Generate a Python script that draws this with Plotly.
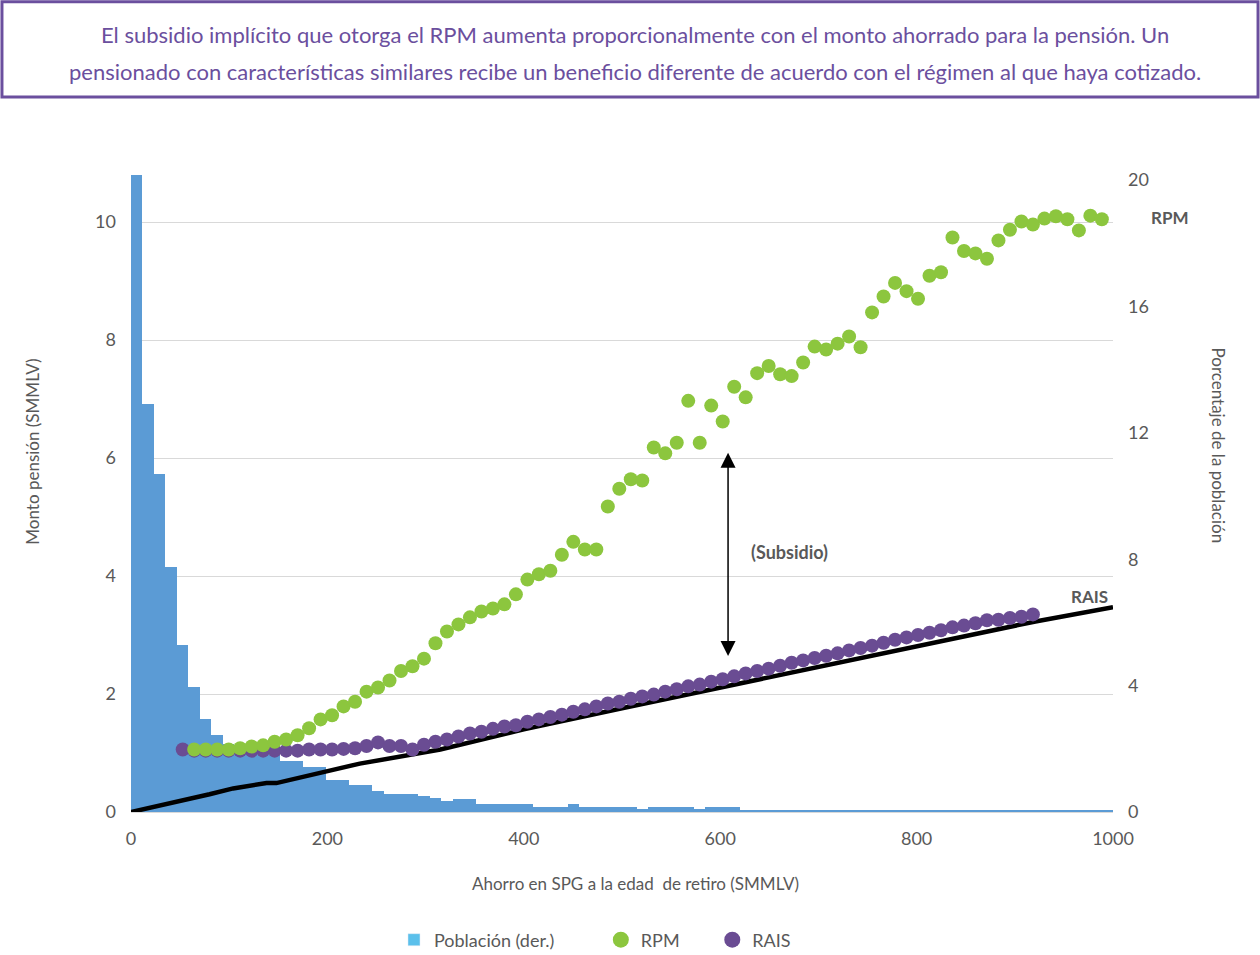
import plotly.graph_objects as go

# ---------------- data ----------------
BIN_WIDTH = 11.7  # width of each savings bin (SMMLV)

# Population share per savings bin (% , right axis)
POP_PCT = [20.15, 12.90, 10.71, 7.76, 5.30, 3.95, 2.95, 2.44, 2.15, 1.98,
           1.90, 1.85, 1.80, 1.60, 1.60, 1.44, 1.44, 1.00, 1.00, 0.84,
           0.84, 0.66, 0.58, 0.58, 0.58, 0.50, 0.43, 0.34, 0.42, 0.42,
           0.24, 0.24, 0.24, 0.24, 0.24, 0.16, 0.16, 0.16, 0.24, 0.16,
           0.16, 0.16, 0.16, 0.16, 0.09, 0.16, 0.16, 0.16, 0.16, 0.09,
           0.16, 0.16, 0.16, 0.06, 0.06, 0.06, 0.06, 0.06, 0.06, 0.06,
           0.06, 0.06, 0.06, 0.06, 0.06, 0.06, 0.06, 0.06, 0.06, 0.06,
           0.06, 0.06, 0.06, 0.06, 0.06, 0.06, 0.06, 0.06, 0.06, 0.06,
           0.06, 0.06, 0.06, 0.06, 0.06, 0.06]

RPM_FIRST_BIN = 5
RPM = [1.06, 1.06, 1.06, 1.06, 1.08, 1.11, 1.13, 1.19, 1.23, 1.30,
       1.42, 1.57, 1.64, 1.79, 1.87, 2.04, 2.11, 2.23, 2.39, 2.47,
       2.60, 2.86, 3.06, 3.18, 3.30, 3.40, 3.45, 3.52, 3.69, 3.94,
       4.03, 4.09, 4.36, 4.58, 4.45, 4.45, 5.18, 5.48, 5.64, 5.62,
       6.18, 6.08, 6.26, 6.97, 6.26, 6.89, 6.62, 7.21, 7.03, 7.44,
       7.56, 7.42, 7.39, 7.62, 7.89, 7.84, 7.94, 8.06, 7.88, 8.47,
       8.74, 8.97, 8.83, 8.70, 9.09, 9.15, 9.74, 9.51, 9.47, 9.38,
       9.69, 9.87, 10.01, 9.96, 10.06, 10.10, 10.05, 9.86, 10.11, 10.05]

RAIS_FIRST_BIN = 4
RAIS = [1.06, 1.04, 1.04, 1.04, 1.04, 1.04, 1.04, 1.04, 1.04, 1.04,
        1.04, 1.06, 1.06, 1.06, 1.07, 1.08, 1.12, 1.18, 1.12, 1.12,
        1.06, 1.14, 1.19, 1.23, 1.28, 1.33, 1.36, 1.41, 1.45, 1.47,
        1.53, 1.57, 1.61, 1.65, 1.70, 1.74, 1.79, 1.84, 1.87, 1.92,
        1.96, 1.99, 2.04, 2.08, 2.13, 2.16, 2.21, 2.25, 2.30, 2.35,
        2.39, 2.43, 2.48, 2.53, 2.57, 2.61, 2.65, 2.69, 2.74, 2.78,
        2.82, 2.87, 2.92, 2.96, 3.00, 3.04, 3.08, 3.13, 3.16, 3.20,
        3.25, 3.26, 3.29, 3.31, 3.35]

# RAIS reference curve (black line)
LINE_X = [0, 37, 80, 104, 138, 148, 172, 200, 233, 315, 400, 500, 600, 700, 800, 921, 1000]
LINE_Y = [0, 0.13, 0.30, 0.40, 0.49, 0.49, 0.58, 0.69, 0.82, 1.06, 1.40, 1.76, 2.11, 2.45, 2.80, 3.23, 3.47]

X_TICKS = [0, 200, 400, 600, 800, 1000]
LEFT_TICKS = [0, 2, 4, 6, 8, 10]
RIGHT_TICKS = [0, 4, 8, 12, 16, 20]

SUBSIDY_X = 608
SUBSIDY_LOW, SUBSIDY_HIGH = 2.62, 6.09

TITLE_1 = "El subsidio implícito que otorga el RPM aumenta proporcionalmente con el monto ahorrado para la pensión. Un"
TITLE_2 = "pensionado con características similares recibe un beneficio diferente de acuerdo con el régimen al que haya cotizado."

# ---------------- styling ----------------
FONT = "Lato"
GRAY = "#595959"
PURPLE_T = "#6b4f9e"
BAR_BLUE = "#5b9bd5"
LEG_BLUE = "#5bc0eb"
GREEN = "#8cc63e"
VIOLET = "#6a4c93"
NB = "\u00a0"

centers = [(i + 0.5) * BIN_WIDTH for i in range(len(POP_PCT))]
rpm_x = centers[RPM_FIRST_BIN:RPM_FIRST_BIN + len(RPM)]
rais_x = centers[RAIS_FIRST_BIN:RAIS_FIRST_BIN + len(RAIS)]

fig = go.Figure()

fig.add_trace(go.Bar(x=centers, y=POP_PCT, width=BIN_WIDTH, marker=dict(color=BAR_BLUE, line=dict(width=0)),
                     yaxis="y", showlegend=False, name="Población (der.)"))
fig.add_trace(go.Scatter(x=LINE_X, y=LINE_Y, mode="lines", line=dict(color="black", width=4.5),
                         yaxis="y2", showlegend=False, name="RAIS curva"))
fig.add_trace(go.Scatter(x=rais_x, y=RAIS, mode="markers", marker=dict(color=VIOLET, size=14),
                         yaxis="y2", showlegend=False, name="RAIS"))
fig.add_trace(go.Scatter(x=rpm_x, y=RPM, mode="markers", marker=dict(color=GREEN, size=14),
                         yaxis="y2", showlegend=False, name="RPM"))

# legend entries
fig.add_trace(go.Bar(x=[None], y=[None], marker=dict(color=LEG_BLUE), name="Población (der.)" + NB * 9, yaxis="y"))
fig.add_trace(go.Scatter(x=[None], y=[None], mode="markers", marker=dict(color=GREEN, size=16),
                         name="RPM" + NB * 6, yaxis="y2"))
fig.add_trace(go.Scatter(x=[None], y=[None], mode="markers", marker=dict(color=VIOLET, size=16),
                         name="RAIS", yaxis="y2"))

L_TOP = 10.85
R_TOP = L_TOP * 59 / 31.6

fig.update_layout(
    width=1260, height=955,
    margin=dict(l=131, r=147, t=172, b=143, autoexpand=False),
    paper_bgcolor="white", plot_bgcolor="white",
    font=dict(family=FONT, color=GRAY, size=17),
    bargap=0,
    xaxis=dict(range=[0, 1000], tickvals=X_TICKS, showgrid=False, zeroline=False, automargin=False,
               showline=True, linecolor="#d9d9d9", linewidth=1, ticks="",
               tickfont=dict(size=18, color=GRAY), ticklabelstandoff=10),
    yaxis=dict(range=[0, R_TOP], tickvals=RIGHT_TICKS, side="right", showgrid=False, zeroline=False,
               automargin=False, showline=False, ticks="", tickfont=dict(size=18, color=GRAY),
               ticklabelstandoff=14),
    yaxis2=dict(range=[0, L_TOP], tickvals=LEFT_TICKS, side="left", overlaying="y", showgrid=True,
                automargin=False, gridcolor="#d9d9d9", gridwidth=1, zeroline=False, showline=False,
                ticks="", tickfont=dict(size=18, color=GRAY), ticklabelstandoff=14),
    legend=dict(orientation="h", x=0.4725, xanchor="center", y=-0.20, yanchor="middle",
                font=dict(size=18, color=GRAY), itemwidth=30, bgcolor="rgba(0,0,0,0)"),
)

# title box
fig.add_shape(type="rect", xref="paper", yref="paper", x0=-0.1314, x1=1.1477, y0=1.117, y1=1.266,
              line=dict(color=PURPLE_T, width=3), fillcolor="rgba(0,0,0,0)", layer="above")
fig.add_annotation(xref="paper", yref="paper", x=0.513, y=1.2145, text=TITLE_1, showarrow=False,
                   font=dict(family=FONT, size=22, color=PURPLE_T), xanchor="center", yanchor="middle")
fig.add_annotation(xref="paper", yref="paper", x=0.513, y=1.1566, text=TITLE_2, showarrow=False,
                   font=dict(family=FONT, size=22, color=PURPLE_T), xanchor="center", yanchor="middle")

# axis titles
fig.add_annotation(xref="paper", yref="paper", x=-0.0998, y=0.563, text="Monto pensión (SMMLV)",
                   textangle=-90, showarrow=False, font=dict(size=17, color=GRAY),
                   xanchor="center", yanchor="middle")
fig.add_annotation(xref="paper", yref="paper", x=1.107, y=0.5725, text="Porcentaje de la población",
                   textangle=90, showarrow=False, font=dict(size=17, color=GRAY),
                   xanchor="center", yanchor="middle")
fig.add_annotation(xref="paper", yref="paper", x=0.514, y=-0.1117, text="Ahorro en SPG a la edad  de retiro (SMMLV)",
                   showarrow=False, font=dict(size=17, color=GRAY), xanchor="center", yanchor="middle")

# series labels
fig.add_annotation(xref="paper", yref="y2", x=1.0585, y=(812.5 - 218) / 59, text="<b>RPM</b>", showarrow=False,
                   font=dict(size=17, color=GRAY), xanchor="center", yanchor="middle")
fig.add_annotation(xref="x", yref="y2", x=976, y=(812.5 - 597) / 59, text="<b>RAIS</b>", showarrow=False,
                   font=dict(size=17, color=GRAY), xanchor="center", yanchor="middle")

# subsidy arrow
fig.add_annotation(xref="x", yref="y2", x=SUBSIDY_X, y=SUBSIDY_HIGH, ax=SUBSIDY_X, ay=SUBSIDY_LOW,
                   axref="x", ayref="y2", text="", showarrow=True, arrowhead=2, arrowside="end+start",
                   arrowsize=2, arrowwidth=1.5, arrowcolor="black")
fig.add_annotation(xref="x", yref="y2", x=671, y=4.40, text="<b>(Subsidio)</b>", showarrow=False,
                   font=dict(size=18, color=GRAY), xanchor="center", yanchor="middle")

fig.write_html("out.html", config={"displayModeBar": False},
               post_script="document.body.style.margin='0';document.body.style.overflow='hidden';")
